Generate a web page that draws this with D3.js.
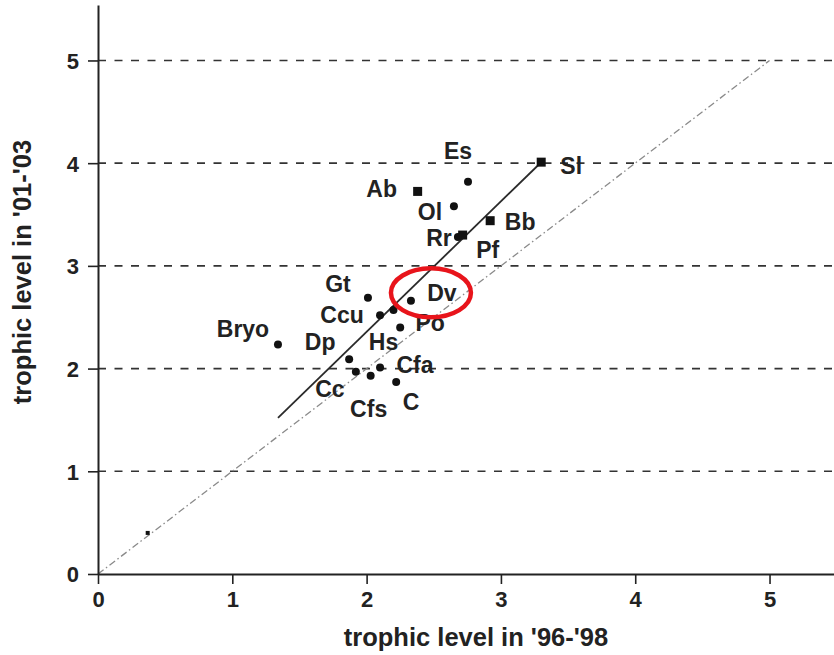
<!DOCTYPE html>
<html>
<head>
<meta charset="utf-8">
<script src="https://cdn.jsdelivr.net/npm/d3@7"></script>
<style>
  html, body { margin: 0; padding: 0; background: #fff; }
  svg { display: block; }
  text { font-family: "Liberation Sans", Arial, Helvetica, sans-serif; font-weight: bold; fill: #222; }
</style>
</head>
<body>
<svg id="chart" width="834" height="655"></svg>
<script>
// Species codes and their trophic levels in the two sampling periods
const species = ["Sl", "Es", "Ab", "Ol", "Bb", "Rr", "Pf", "Gt", "Dv", "Ccu", "Hs", "Po", "Bryo", "Dp", "Cfa", "Cc", "Cfs", "C"];
const tl9698  = [3.30, 2.755, 2.38, 2.65, 2.92, 2.68, 2.715, 2.01, 2.33, 2.10, 2.20, 2.25, 1.34, 1.87, 2.10, 1.92, 2.03, 2.22];
const tl0103  = [4.01, 3.82, 3.725, 3.58, 3.44, 3.28, 3.30, 2.69, 2.66, 2.52, 2.57, 2.40, 2.235, 2.09, 2.01, 1.97, 1.93, 1.87];
const markerType = ["square", "circle", "square", "circle", "square", "circle", "square", "circle", "circle", "circle", "circle", "circle", "circle", "circle", "circle", "circle", "circle", "circle"];

// Axis ticks
const xTicks = [0, 1, 2, 3, 4, 5];
const yTicks = [0, 1, 2, 3, 4, 5];
const gridLevels = [1, 2, 3, 4, 5];

// Fitted regression (intercept, slope) and its x range
const fitIntercept = -0.182;
const fitSlope = 1.27;
const fitRange = [1.34, 3.30];

// 1:1 reference line and the point marked on it
const identityRange = [0, 5];
const refPoint = [0.37, 0.40];

// Highlighted species
const highlighted = "Dv";

// Label placement (pixel offsets from each marker)
const labelOffset = {
  Sl: [30, 4], Es: [-10, -31], Ab: [-36, -2], Ol: [-24, 6], Bb: [30, 1],
  Rr: [-19, 1], Pf: [25, 15], Gt: [-30, -14], Dv: [31, -8], Ccu: [-38, 0],
  Hs: [-10, 32], Po: [30, -5], Bryo: [-35, -15], Dp: [-29, -17], Cfa: [35, -3],
  Cc: [-26, 17], Cfs: [-2, 33], C: [15, 20]
};

const svg = d3.select("#chart");
const x = d3.scaleLinear().domain([0, 5.48]).range([98, 834]);
const y = d3.scaleLinear().domain([0, 5.54]).range([574, 5]);

// Dashed horizontal grid
svg.append("g").selectAll("line").data(gridLevels).join("line")
  .attr("x1", x(0)).attr("x2", 834)
  .attr("y1", d => y(d)).attr("y2", d => y(d))
  .attr("stroke", "#333").attr("stroke-width", 1.6)
  .attr("stroke-dasharray", "8,8.5");

// 1:1 line (dash-dot)
svg.append("line")
  .attr("x1", x(identityRange[0])).attr("y1", y(identityRange[0]))
  .attr("x2", x(identityRange[1])).attr("y2", y(identityRange[1]))
  .attr("stroke", "#8a8a8a").attr("stroke-width", 1.3)
  .attr("stroke-dasharray", "7,3,1.5,3");

svg.append("rect")
  .attr("x", x(refPoint[0]) - 2).attr("y", y(refPoint[1]) - 2)
  .attr("width", 4).attr("height", 4).attr("fill", "#111");

// Regression line
svg.append("line")
  .attr("x1", x(fitRange[0])).attr("y1", y(fitIntercept + fitSlope * fitRange[0]))
  .attr("x2", x(fitRange[1])).attr("y2", y(fitIntercept + fitSlope * fitRange[1]))
  .attr("stroke", "#2a2a2a").attr("stroke-width", 1.8);

// Axes
const xAxis = svg.append("g").attr("transform", `translate(0,${y(0)})`)
  .call(d3.axisBottom(x).tickValues(xTicks).tickFormat(d3.format("d")).tickSize(10).tickSizeOuter(0).tickPadding(7));
const yAxis = svg.append("g").attr("transform", `translate(${x(0)},0)`)
  .call(d3.axisLeft(y).tickValues(yTicks).tickFormat(d3.format("d")).tickSize(10).tickSizeOuter(0).tickPadding(9));

[xAxis, yAxis].forEach(g => {
  g.select(".domain").attr("stroke", "#222").attr("stroke-width", 2);
  g.selectAll(".tick line").attr("stroke", "#222").attr("stroke-width", 1.6);
  g.selectAll(".tick text")
    .attr("fill", "#222")
    .style("font-family", "\"Liberation Sans\", Arial, sans-serif")
    .style("font-weight", "bold").style("font-size", "22px");
});
yAxis.selectAll(".tick text").attr("dy", "0.36em");

// Data markers
const pts = species.map((s, i) => ({ s, x: tl9698[i], y: tl0103[i], m: markerType[i] }));
const marks = svg.append("g");
marks.selectAll("rect").data(pts.filter(d => d.m === "square")).join("rect")
  .attr("x", d => x(d.x) - 4.5).attr("y", d => y(d.y) - 4.5)
  .attr("width", 9).attr("height", 9).attr("fill", "#111");
marks.selectAll("circle").data(pts.filter(d => d.m === "circle")).join("circle")
  .attr("cx", d => x(d.x)).attr("cy", d => y(d.y)).attr("r", 4).attr("fill", "#111");

// Species labels
svg.append("g").selectAll("text").data(pts).join("text")
  .attr("x", d => x(d.x) + labelOffset[d.s][0])
  .attr("y", d => y(d.y) + labelOffset[d.s][1])
  .attr("text-anchor", "middle").attr("dominant-baseline", "central")
  .style("font-size", "23px")
  .text(d => d.s);

// Highlight ring around the selected species
const hp = pts.find(d => d.s === highlighted);
svg.append("ellipse")
  .attr("cx", x(hp.x) + 20).attr("cy", y(hp.y) - 8)
  .attr("rx", 40).attr("ry", 24.5)
  .attr("fill", "none").attr("stroke", "#e8141b").attr("stroke-width", 4.5);

// Axis titles
svg.append("text")
  .attr("x", 476).attr("y", 646)
  .attr("text-anchor", "middle")
  .style("font-size", "25.5px")
  .text("trophic level in '96-'98");
svg.append("text")
  .attr("transform", "translate(31,272) rotate(-90)")
  .attr("text-anchor", "middle")
  .style("font-size", "25.5px")
  .text("trophic level in '01-'03");
</script>
</body>
</html>
